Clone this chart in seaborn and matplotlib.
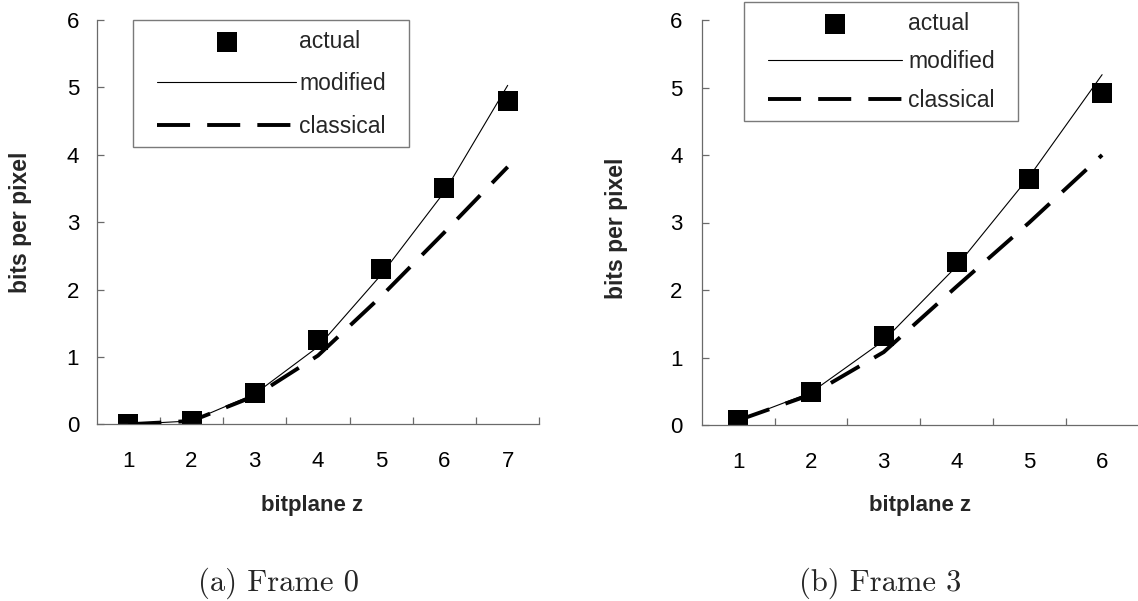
import numpy as np
import matplotlib
matplotlib.use("Agg")
import matplotlib.pyplot as plt
import seaborn as sns
from matplotlib.path import Path

# ---------------- data ----------------
z_frame0 = [1, 2, 3, 4, 5, 6, 7]
actual_frame0 = [0.01, 0.05, 0.46, 1.25, 2.30, 3.50, 4.80]
modified_frame0 = [0.00, 0.05, 0.45, 1.15, 2.22, 3.45, 5.03]
classical_frame0 = [0.00, 0.05, 0.42, 1.02, 1.90, 2.85, 3.82]

z_frame3 = [1, 2, 3, 4, 5, 6]
actual_frame3 = [0.07, 0.49, 1.32, 2.42, 3.64, 4.92]
modified_frame3 = [0.07, 0.48, 1.25, 2.35, 3.68, 5.19]
classical_frame3 = [0.07, 0.45, 1.08, 2.05, 3.00, 4.00]

y_ticks = [0, 1, 2, 3, 4, 5, 6]
series_labels = ["actual", "modified", "classical"]
x_label = "bitplane z"
y_label = "bits per pixel"
captions = ["(a) Frame 0", "(b) Frame 3"]

# ---------------- style ----------------
sns.set_theme(style="white")
plt.rcParams["font.family"] = ["Liberation Sans", "DejaVu Sans"]
SPINE = "#6a6a6a"
W, H = 1138, 601

fig = plt.figure(figsize=(W / 100, H / 100), dpi=100)


def px_axes(x0, x1, ytop, ybot):
    return fig.add_axes([x0 / W, 1 - ybot / H, (x1 - x0) / W, (ybot - ytop) / H])


def wide_box(padx_frac):
    def box(x0, y0, width, height, mutation_size):
        padx = padx_frac * mutation_size
        verts = [(x0 - padx, y0), (x0 + width + padx, y0),
                 (x0 + width + padx, y0 + height), (x0 - padx, y0 + height),
                 (x0 - padx, y0)]
        return Path(verts, closed=True)
    return box


def draw(ax, z, actual, modified, classical, ypad, leg_anchor, leg_len,
         leg_space, leg_textpad, xlab_pos, ylab_pos):
    sns.scatterplot(x=z, y=actual, ax=ax, marker="s", s=200, color="black",
                    linewidth=0, label=series_labels[0], zorder=2)
    sns.lineplot(x=z, y=modified, ax=ax, color="black", linewidth=0.8,
                 label=series_labels[1], zorder=3)
    sns.lineplot(x=z, y=classical, ax=ax, color="black", linewidth=2.8,
                 linestyle=(0, (8.5, 4.4)), dash_capstyle="butt",
                 label=series_labels[2], zorder=4)

    n = len(z)
    ax.set_xlim(0.5, n + 0.5)
    ax.set_ylim(0, 6)
    ax.set_xticks(z)
    ax.set_xticklabels([str(v) for v in z])
    ax.set_xticks(np.arange(1.5, n + 1, 1.0), minor=True)
    ax.set_yticks(y_ticks)
    ax.set_yticklabels([str(v) for v in y_ticks])

    for s in ["top", "right"]:
        ax.spines[s].set_visible(False)
    for s in ["left", "bottom"]:
        ax.spines[s].set_color(SPINE)
        ax.spines[s].set_linewidth(0.9)

    ax.tick_params(axis="x", which="major", length=0, pad=19.5,
                   labelsize=16, labelcolor="black")
    ax.tick_params(axis="x", which="minor", direction="in", length=5,
                   width=0.9, color=SPINE, bottom=True)
    ax.tick_params(axis="y", which="major", direction="in", length=5,
                   width=0.9, color=SPINE, left=True, pad=ypad,
                   labelsize=16, labelcolor="black")

    ax.set_xlabel(x_label, fontsize=16, fontweight="bold")
    ax.xaxis.set_label_coords(*xlab_pos)
    ax.xaxis.label.set_verticalalignment("center")
    ax.set_ylabel(y_label, fontsize=16.5, fontweight="bold")
    ax.yaxis.set_label_coords(*ylab_pos)
    ax.yaxis.label.set_verticalalignment("center")

    handles, labels = ax.get_legend_handles_labels()
    leg = ax.legend(handles, labels, loc="upper left",
                    bbox_to_anchor=(leg_anchor[0] / W, 1 - leg_anchor[1] / H),
                    bbox_transform=fig.transFigure, borderaxespad=0,
                    fontsize=16.5, handlelength=leg_len, handletextpad=leg_textpad,
                    labelspacing=leg_space, borderpad=0.42, scatterpoints=1,
                    fancybox=False, frameon=True, framealpha=1)
    fr = leg.get_frame()
    fr.set_edgecolor("#7a7a7a")
    fr.set_linewidth(1.0)
    fr.set_facecolor("white")
    fr.set_boxstyle(wide_box(0.6))
    return ax


ax1 = px_axes(96.7, 539.3, 20, 424.3)
draw(ax1, z_frame0, actual_frame0, modified_frame0, classical_frame0,
     ypad=12.7, leg_anchor=(147, 20), leg_len=6.1, leg_space=0.85,
     leg_textpad=0.12, xlab_pos=(0.486, -0.2), ylab_pos=(-0.173, 0.5))

ax2 = px_axes(701.7, 1138.5, 20, 425)
draw(ax2, z_frame3, actual_frame3, modified_frame3, classical_frame3,
     ypad=13.7, leg_anchor=(758, 2), leg_len=5.85, leg_space=0.68,
     leg_textpad=0.28, xlab_pos=(0.5, -0.2), ylab_pos=(-0.194, 0.485))

fig.text(279 / W, 1 - 583 / H, captions[0], ha="center", va="center",
         fontfamily="cmr10", fontsize=22)
fig.text(880 / W, 1 - 583 / H, captions[1], ha="center", va="center",
         fontfamily="cmr10", fontsize=22)

fig.savefig("out.png", dpi=100)
